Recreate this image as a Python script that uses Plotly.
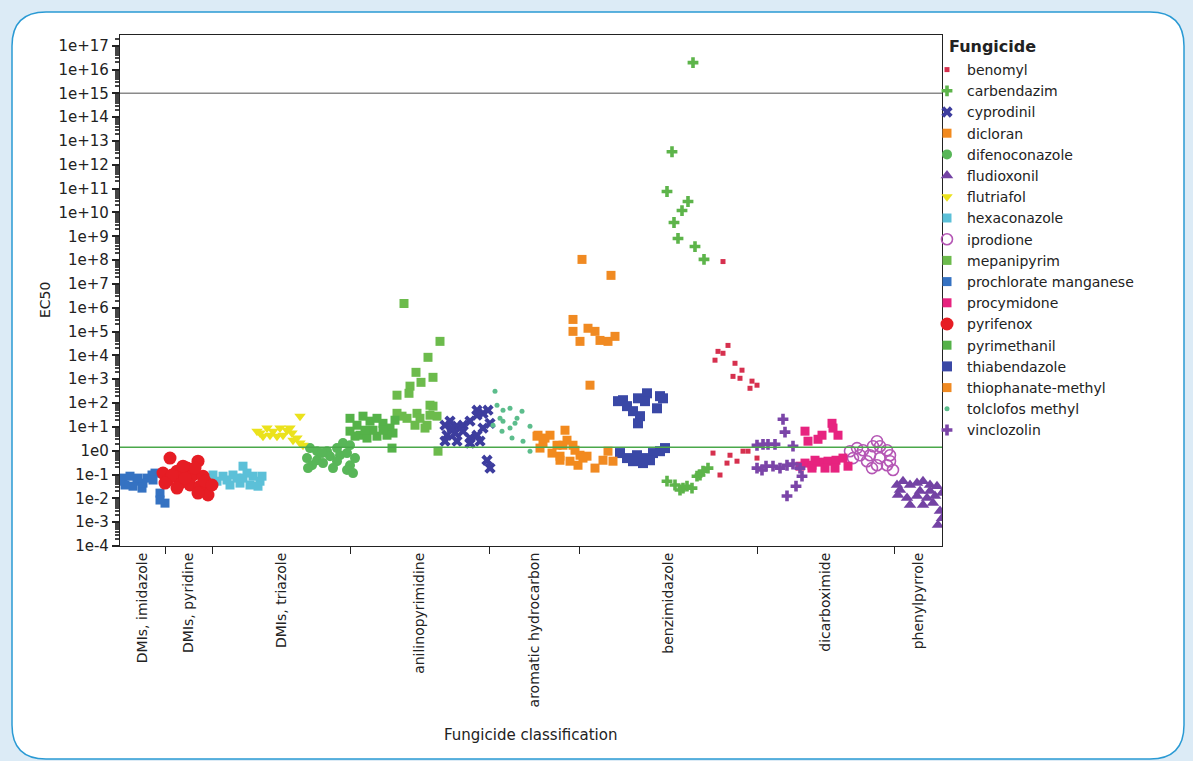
import plotly.graph_objects as go

# ---------------- data ----------------
categories = ["DMIs, imidazole", "DMIs, pyridine", "DMIs, triazole", "anilinopyrimidine",
              "aromatic hydrocarbon", "benzimidazole", "dicarboximide", "phenylpyrrole"]
# category band edges along the classification axis (position units)
category_edges = [0, 45, 92, 230, 369, 459, 637, 774, 822]

# y tick exponents (log10 EC50)
tick_exponents = list(range(-4, 18))
tick_labels = ["1e-4", "1e-3", "1e-2", "1e-1", "1e0"] + ["1e+%d" % e for e in range(1, 18)]

# reference lines (EC50)
upper_line = 1e15
lower_line = 10 ** 0.15

# per-fungicide positions (jittered position within class band) and log10(EC50)
benomyl_pos = [603, 608, 598, 603, 595, 615, 622, 613, 620, 632, 637, 630, 593, 610, 623, 628, 637, 607, 617, 600]
benomyl_log = [7.94, 4.42, 4.17, 4.09, 3.80, 3.67, 3.38, 3.12, 3.04, 2.92, 2.75, 2.62, -0.10, -0.19, -0.02, -0.02, -0.31, -0.52, -0.44, -1.02]

carbendazim_pos = [573, 552, 547, 568, 562, 554, 558, 575, 584, 547, 555, 563, 572, 560, 567, 577, 583, 588, 580]
carbendazim_log = [16.29, 12.55, 10.88, 10.46, 10.08, 9.58, 8.91, 8.57, 8.03, -1.28, -1.44, -1.57, -1.57, -1.65, -1.49, -1.07, -0.86, -0.73, -1.02]

cyprodinil_pos = [325, 330, 337, 343, 350, 357, 363, 327, 335, 343, 350, 357, 363, 325, 337, 350, 360, 368, 357, 367, 370, 332, 370]
cyprodinil_log = [1.07, 1.24, 1.03, 1.07, 1.24, 1.49, 1.57, 0.65, 0.74, 0.82, 0.53, 0.65, 0.95, 0.40, 0.40, 0.32, 0.40, 1.70, 1.70, -0.40, -0.73, 0.95, 1.15]

dicloran_pos = [417, 423, 430, 437, 445, 447, 453, 460, 467, 440, 450, 458, 420, 432, 418, 443, 455, 463, 425, 440]
dicloran_log = [0.61, 0.32, 0.65, 0.23, 0.86, 0.44, 0.23, -0.19, -0.23, -0.23, -0.44, -0.61, 0.11, -0.10, 0.65, 0.23, 0.02, -0.31, 0.53, -0.40]

difenoconazole_pos = [190, 197, 207, 217, 223, 230, 187, 197, 210, 220, 227, 192, 203, 217, 230, 227, 233, 188, 213, 235, 202]
difenoconazole_log = [0.11, -0.02, -0.02, 0.11, 0.32, 0.23, -0.31, -0.40, -0.23, -0.19, -0.10, -0.61, -0.52, -0.44, -0.61, -0.81, -0.94, -0.73, -0.73, -0.31, -0.10]

fludioxonil_pos = [777, 783, 790, 797, 803, 810, 817, 778, 787, 797, 807, 815, 790, 803, 813, 780, 800, 810, 820, 822, 818, 822]
fludioxonil_log = [-1.44, -1.28, -1.44, -1.36, -1.28, -1.44, -1.49, -1.86, -1.99, -1.90, -1.99, -1.90, -2.28, -2.28, -2.20, -1.65, -1.69, -1.69, -2.53, -2.83, -3.12, -1.78]

flutriafol_pos = [180, 140, 147, 153, 160, 167, 172, 143, 157, 163, 173, 180, 183, 150, 170, 137, 177]
flutriafol_log = [1.45, 0.74, 0.95, 0.82, 0.95, 0.86, 0.74, 0.61, 0.61, 0.65, 0.44, 0.32, 0.23, 0.65, 0.95, 0.82, 0.53]

hexaconazole_pos = [93, 103, 113, 123, 133, 140, 97, 110, 120, 130, 138, 117, 107, 123, 127, 88, 142]
hexaconazole_log = [-1.02, -1.07, -1.02, -1.15, -1.07, -1.28, -1.28, -1.44, -1.36, -1.44, -1.49, -1.15, -1.23, -0.65, -0.94, -1.15, -1.07]

iprodione_pos = [757, 760, 753, 767, 770, 743, 737, 730, 740, 750, 760, 733, 747, 757, 767, 773, 770, 752]
iprodione_log = [0.40, 0.19, 0.19, 0.02, -0.19, 0.02, 0.11, -0.02, -0.19, -0.19, -0.31, -0.31, -0.44, -0.61, -0.61, -0.81, -0.44, -0.73]

mepanipyrim_pos = [284, 320, 308, 296, 313, 301, 290, 277, 289, 277, 282, 287, 297, 300, 310, 317, 307, 295, 313, 310, 318, 305]
mepanipyrim_log = [6.18, 4.59, 3.92, 3.29, 3.08, 2.87, 2.71, 2.33, 2.41, 1.57, 1.45, 1.36, 1.57, 1.36, 1.49, 1.45, 1.07, 1.07, 1.87, 1.91, -0.02, 0.95]

prochlorate_pos = [3, 10, 17, 22, 27, 32, 35, 13, 5, 23, 40, 45, 40, 18, 33, 0]
prochlorate_log = [-1.15, -1.07, -1.28, -1.57, -1.15, -1.02, -0.94, -1.49, -1.44, -1.36, -1.78, -2.20, -2.07, -1.15, -1.23, -1.28]

procymidone_pos = [685, 688, 698, 702, 712, 718, 713, 685, 692, 700, 708, 716, 723, 728, 715, 705, 692, 680, 695]
procymidone_log = [0.82, 0.40, 0.48, 0.65, 1.15, 0.65, 0.95, -0.52, -0.61, -0.48, -0.44, -0.40, -0.31, -0.65, -0.73, -0.73, -0.73, -0.65, -0.40]

pyrifenox_pos = [50, 78, 43, 57, 67, 73, 83, 60, 48, 70, 80, 87, 88, 57, 52, 65, 75, 85, 45, 63, 92, 78]
pyrifenox_log = [-0.31, -0.44, -0.94, -0.86, -0.73, -1.02, -1.07, -1.36, -1.23, -1.44, -1.49, -1.65, -1.86, -1.57, -1.02, -1.15, -0.73, -1.28, -1.36, -0.65, -1.44, -1.78]

pyrimethanil_pos = [230, 237, 243, 250, 257, 263, 270, 273, 230, 240, 247, 257, 267, 253, 245, 235, 272, 263, 275]
pyrimethanil_log = [1.36, 1.07, 1.45, 1.24, 1.36, 1.15, 0.95, 0.74, 0.82, 0.65, 0.53, 0.61, 0.65, 0.86, 0.86, 0.61, 0.11, 0.86, 1.28]

thiabendazole_pos = [503, 507, 518, 527, 540, 537, 513, 520, 518, 498, 525, 543, 500, 507, 517, 527, 533, 540, 513, 523, 530, 545]
thiabendazole_log = [2.12, 1.87, 2.20, 2.41, 2.29, 1.78, 1.66, 1.45, 1.15, 2.08, 2.08, 2.20, -0.10, -0.31, -0.19, -0.31, -0.10, -0.02, -0.44, -0.52, -0.40, 0.11]

thiophanate_pos = [462, 491, 453, 453, 468, 475, 460, 480, 488, 495, 470, 488, 483, 493, 475]
thiophanate_log = [8.03, 7.36, 5.51, 5.01, 5.14, 5.01, 4.59, 4.63, 4.59, 4.80, 2.75, -0.02, -0.40, -0.44, -0.73]

tolclofos_pos = [375, 377, 383, 390, 402, 397, 410, 383, 373, 390, 382, 392, 403, 410, 380, 395]
tolclofos_log = [2.50, 1.91, 1.70, 1.78, 1.66, 1.36, 1.03, 1.24, 1.07, 0.95, 0.82, 0.53, 0.40, -0.02, 1.36, 1.15]

vinclozolin_pos = [663, 665, 637, 643, 648, 655, 673, 637, 646, 653, 660, 667, 673, 680, 682, 676, 667, 642]
vinclozolin_log = [1.32, 0.78, 0.23, 0.27, 0.27, 0.27, 0.19, -0.73, -0.65, -0.65, -0.73, -0.61, -0.56, -0.73, -1.07, -1.49, -1.90, -0.81]

# ---------------- styles ----------------
series = [
    ("benomyl", benomyl_pos, benomyl_log, "square", 5, "#d6304e"),
    ("carbendazim", carbendazim_pos, carbendazim_log, "cross", 9, "#5db44a"),
    ("cyprodinil", cyprodinil_pos, cyprodinil_log, "x", 10, "#3d3d9e"),
    ("dicloran", dicloran_pos, dicloran_log, "square", 9, "#f28a1e"),
    ("difenoconazole", difenoconazole_pos, difenoconazole_log, "circle", 10, "#58b658"),
    ("fludioxonil", fludioxonil_pos, fludioxonil_log, "triangle-up", 11, "#7443a4"),
    ("flutriafol", flutriafol_pos, flutriafol_log, "triangle-down", 10, "#ebe21c"),
    ("hexaconazole", hexaconazole_pos, hexaconazole_log, "square", 9, "#5cc0d8"),
    ("iprodione", iprodione_pos, iprodione_log, "circle-open", 11, "#b557b5"),
    ("mepanipyrim", mepanipyrim_pos, mepanipyrim_log, "square", 9, "#6cbb4c"),
    ("prochlorate manganese", prochlorate_pos, prochlorate_log, "square", 9, "#3572c2"),
    ("procymidone", procymidone_pos, procymidone_log, "square", 9, "#e7237f"),
    ("pyrifenox", pyrifenox_pos, pyrifenox_log, "circle", 13, "#e61d24"),
    ("pyrimethanil", pyrimethanil_pos, pyrimethanil_log, "square", 9, "#55b249"),
    ("thiabendazole", thiabendazole_pos, thiabendazole_log, "square", 10, "#3a48a6"),
    ("thiophanate-methyl", thiophanate_pos, thiophanate_log, "square", 9, "#f08a22"),
    ("tolclofos methyl", tolclofos_pos, tolclofos_log, "circle", 5, "#5cbd8c"),
    ("vinclozolin", vinclozolin_pos, vinclozolin_log, "cross", 9, "#7b45a8"),
]

FONT = "DejaVu Sans"
fig = go.Figure()
for name, pos, logv, sym, size, col in series:
    fig.add_trace(go.Scatter(
        x=pos, y=[10 ** v for v in logv], mode="markers", name=name,
        marker=dict(symbol=sym, size=size, color=col,
                    line=dict(width=1.6 if sym == "circle-open" else 0, color=col)),
    ))

# helper trace for the band-boundary tick axis
fig.add_trace(go.Scatter(x=[category_edges[0]], y=[1e-4], xaxis="x2", mode="markers",
                         marker=dict(opacity=0), showlegend=False, hoverinfo="skip"))

centers = [(category_edges[i] + category_edges[i + 1]) / 2 for i in range(len(categories))]

# page geometry (plot area in px)
W, H = 1193, 761
L, R, T, B = 120, 942, 35, 546
pw, ph = R - L, B - T
def px(x):
    return (x - L) / pw
def py(y):
    return (B - y) / ph

# rounded white panel
x0, x1, y0, y1, r = 12, 1184, 12, 759, 34
rx, ry = r / pw, r / ph
path = (f"M {px(x0)},{py(y0) - ry} Q {px(x0)},{py(y0)} {px(x0) + rx},{py(y0)} "
        f"L {px(x1) - rx},{py(y0)} Q {px(x1)},{py(y0)} {px(x1)},{py(y0) - ry} "
        f"L {px(x1)},{py(y1) + ry} Q {px(x1)},{py(y1)} {px(x1) - rx},{py(y1)} "
        f"L {px(x0) + rx},{py(y1)} Q {px(x0)},{py(y1)} {px(x0)},{py(y1) + ry} Z")
fig.add_shape(type="path", path=path, xref="paper", yref="paper", layer="below",
              fillcolor="white", line=dict(color="#2a9ad4", width=1.5))

fig.add_hline(y=upper_line, line=dict(color="#8a8a8a", width=1.5))
fig.add_hline(y=lower_line, line=dict(color="#4aa84a", width=1.5))

fig.update_layout(
    width=W, height=H,
    margin=dict(l=L, r=W - R, t=T, b=H - B),
    paper_bgcolor="#dcebf6", plot_bgcolor="white",
    font=dict(family=FONT, size=14, color="#222"),
    showlegend=True,
    legend=dict(x=px(927), y=py(54), xanchor="left", yanchor="top",
                font=dict(size=14, family=FONT, color="#222"),
                bgcolor="rgba(0,0,0,0)", itemsizing="trace", tracegroupgap=0),
    xaxis=dict(range=[category_edges[0], category_edges[-1]], tickmode="array",
               tickvals=centers, ticktext=categories, tickangle=-90, ticks="",
               showgrid=False, zeroline=False, showline=True, linecolor="#222",
               linewidth=1.2, mirror=True, tickfont=dict(size=14, family=FONT)),
    xaxis2=dict(range=[category_edges[0], category_edges[-1]], overlaying="x", anchor="y",
                side="bottom", tickmode="array", tickvals=category_edges[1:-1],
                ticks="outside", ticklen=7, tickcolor="#222", showticklabels=False,
                showgrid=False, zeroline=False, showline=False),
    yaxis=dict(type="log", range=[-4, 17.45], tickmode="array",
               tickvals=[10 ** e for e in tick_exponents], ticktext=tick_labels,
               ticks="outside", ticklen=7, tickwidth=1.5, tickcolor="#222",
               showgrid=False, zeroline=False, showline=True, linecolor="#222",
               linewidth=1.2, mirror=True, tickfont=dict(size=15, family=FONT),
               minor=dict(ticks="outside", ticklen=4, dtick="D1", tickcolor="#444",
                          showgrid=False)),
    annotations=[
        dict(text="EC50", x=px(45), y=py(300), xref="paper", yref="paper",
             xanchor="center", yanchor="middle",
             showarrow=False, textangle=-90, font=dict(size=14, family=FONT)),
        dict(text="Fungicide classification", x=px(530), y=py(735), xref="paper",
             yref="paper", xanchor="center", yanchor="middle",
             showarrow=False, font=dict(size=15, family=FONT)),
        dict(text="<b>Fungicide</b>", x=px(947), y=py(46), xref="paper", yref="paper",
             xanchor="left", yanchor="middle", showarrow=False,
             font=dict(size=16, family=FONT)),
    ],
)

fig.write_html("out.html")
